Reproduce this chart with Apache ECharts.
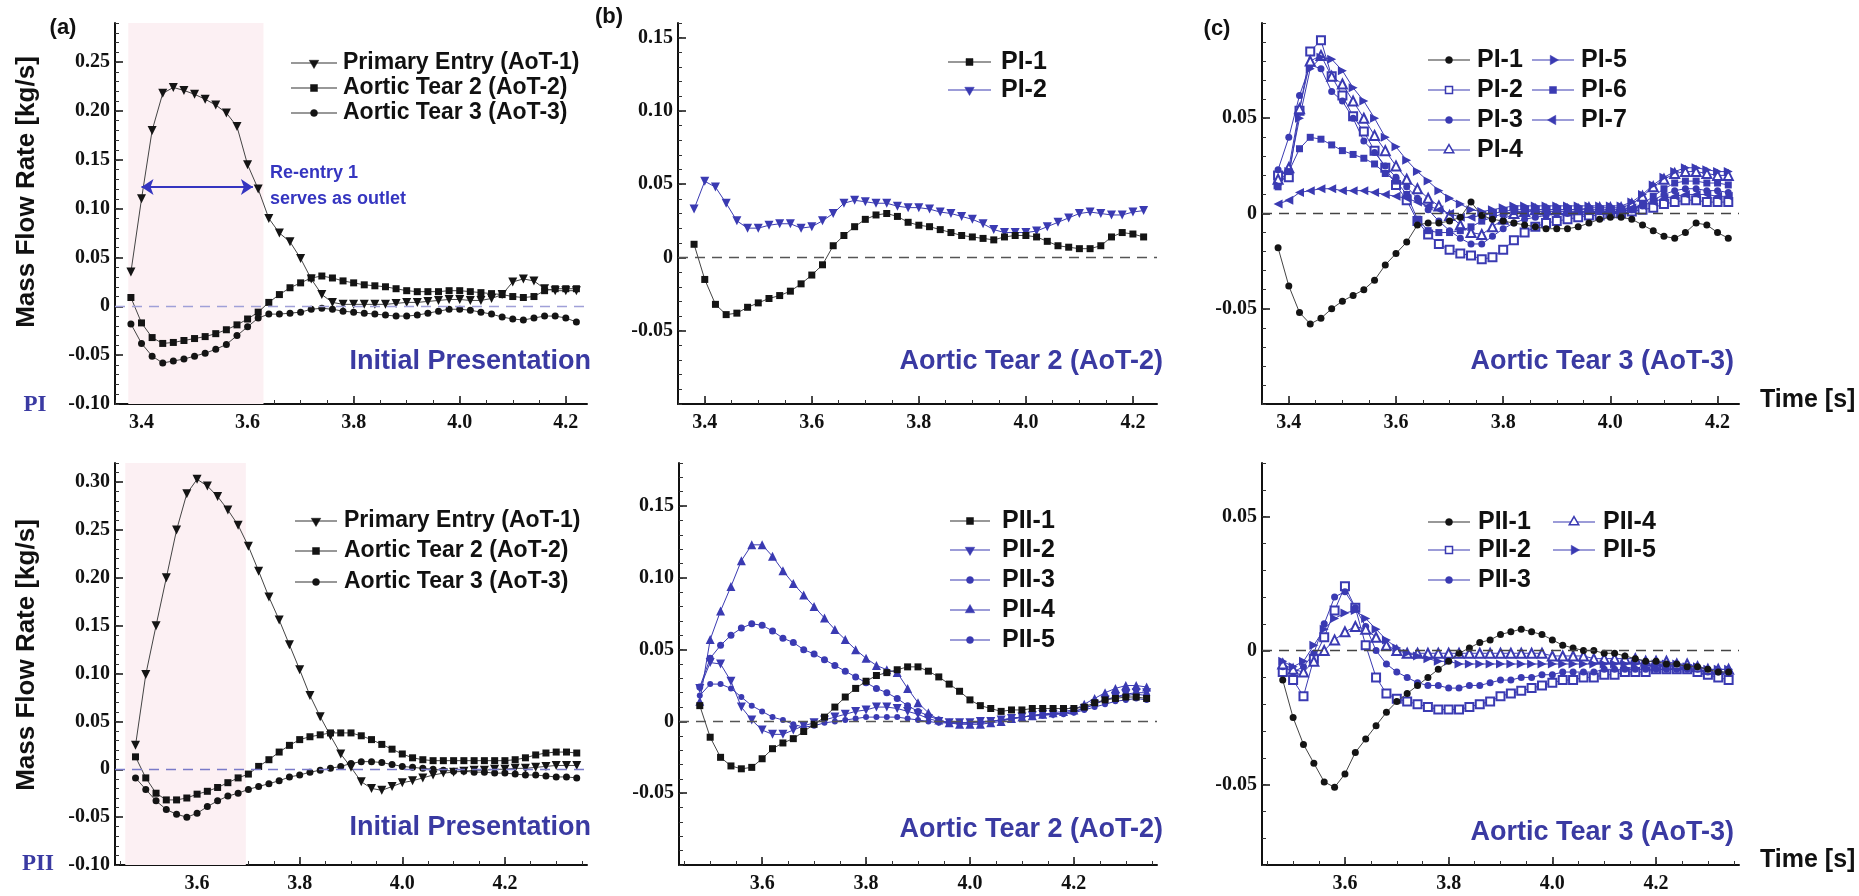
<!DOCTYPE html>
<html>
<head>
<meta charset="utf-8">
<script src="https://cdn.jsdelivr.net/npm/echarts@6/dist/echarts.min.js"></script>
<style>
  html, body { margin: 0; padding: 0; background: #fff; }
  #chart { width: 1859px; height: 896px; }
</style>
</head>
<body>
<div id="chart"></div>
<script>
// sample times (s)
const timeTop = [3.38, 3.40, 3.42, 3.44, 3.46, 3.48, 3.50, 3.52, 3.54, 3.56, 3.58, 3.60, 3.62, 3.64, 3.66, 3.68, 3.70, 3.72, 3.74, 3.76, 3.78, 3.80, 3.82, 3.84, 3.86, 3.88, 3.90, 3.92, 3.94, 3.96, 3.98, 4.00, 4.02, 4.04, 4.06, 4.08, 4.10, 4.12, 4.14, 4.16, 4.18, 4.20, 4.22];
const timeBottom = [3.48, 3.50, 3.52, 3.54, 3.56, 3.58, 3.60, 3.62, 3.64, 3.66, 3.68, 3.70, 3.72, 3.74, 3.76, 3.78, 3.80, 3.82, 3.84, 3.86, 3.88, 3.90, 3.92, 3.94, 3.96, 3.98, 4.00, 4.02, 4.04, 4.06, 4.08, 4.10, 4.12, 4.14, 4.16, 4.18, 4.20, 4.22, 4.24, 4.26, 4.28, 4.30, 4.32, 4.34];

// tick labels
const xTicks = [3.4, 3.6, 3.8, 4.0, 4.2];
const yTicksA1 = [-0.10, -0.05, 0, 0.05, 0.10, 0.15, 0.20, 0.25];
const yTicksB = [-0.05, 0, 0.05, 0.10, 0.15];
const yTicksC = [-0.05, 0, 0.05];
const yTicksA2 = [-0.10, -0.05, 0, 0.05, 0.10, 0.15, 0.20, 0.25, 0.30];

// (a) PI  mass flow rate [kg/s]
const aTopAoT1 = [0.035, 0.110, 0.180, 0.218, 0.224, 0.221, 0.217, 0.212, 0.206, 0.198, 0.184, 0.145, 0.120, 0.090, 0.075, 0.066, 0.049, 0.028, 0.012, 0.004, 0.002, 0.002, 0.002, 0.002, 0.002, 0.003, 0.004, 0.004, 0.005, 0.006, 0.007, 0.007, 0.006, 0.006, 0.008, 0.012, 0.025, 0.028, 0.026, 0.018, 0.016, 0.016, 0.016];
const aTopAoT2 = [0.009, -0.017, -0.032, -0.038, -0.037, -0.035, -0.033, -0.031, -0.028, -0.024, -0.019, -0.013, -0.006, 0.004, 0.012, 0.019, 0.024, 0.029, 0.031, 0.029, 0.026, 0.024, 0.022, 0.021, 0.020, 0.018, 0.016, 0.015, 0.015, 0.015, 0.016, 0.016, 0.015, 0.014, 0.013, 0.012, 0.010, 0.009, 0.010, 0.016, 0.018, 0.018, 0.018];
const aTopAoT3 = [-0.018, -0.038, -0.051, -0.058, -0.056, -0.054, -0.051, -0.048, -0.044, -0.039, -0.030, -0.021, -0.012, -0.008, -0.008, -0.007, -0.006, -0.003, -0.002, -0.003, -0.005, -0.006, -0.007, -0.008, -0.009, -0.010, -0.010, -0.009, -0.007, -0.005, -0.003, -0.003, -0.004, -0.006, -0.008, -0.011, -0.013, -0.014, -0.012, -0.010, -0.010, -0.012, -0.016];

// (b) PI
const bTopPI1 = [0.009, -0.015, -0.032, -0.039, -0.038, -0.034, -0.031, -0.028, -0.026, -0.023, -0.018, -0.012, -0.005, 0.008, 0.015, 0.021, 0.026, 0.029, 0.030, 0.028, 0.024, 0.022, 0.021, 0.019, 0.017, 0.015, 0.014, 0.013, 0.012, 0.014, 0.015, 0.015, 0.014, 0.011, 0.008, 0.007, 0.006, 0.006, 0.008, 0.014, 0.017, 0.016, 0.014];
const bTopPI2 = [0.033, 0.052, 0.048, 0.037, 0.025, 0.020, 0.020, 0.022, 0.023, 0.023, 0.020, 0.021, 0.025, 0.030, 0.037, 0.039, 0.038, 0.037, 0.037, 0.035, 0.034, 0.034, 0.033, 0.031, 0.030, 0.028, 0.026, 0.023, 0.019, 0.017, 0.017, 0.017, 0.018, 0.021, 0.024, 0.027, 0.030, 0.031, 0.030, 0.029, 0.029, 0.031, 0.032];

// (c) PI
const cTopPI1 = [-0.018, -0.038, -0.052, -0.058, -0.055, -0.050, -0.046, -0.043, -0.040, -0.035, -0.027, -0.021, -0.015, -0.006, -0.005, -0.005, -0.004, -0.002, 0.006, -0.001, -0.003, -0.004, -0.005, -0.006, -0.007, -0.008, -0.008, -0.008, -0.007, -0.005, -0.003, -0.002, -0.002, -0.003, -0.006, -0.009, -0.012, -0.013, -0.010, -0.005, -0.006, -0.010, -0.013];
const cTopPI2 = [0.020, 0.019, 0.054, 0.085, 0.091, 0.072, 0.062, 0.051, 0.043, 0.033, 0.024, 0.015, 0.007, -0.004, -0.011, -0.016, -0.019, -0.021, -0.022, -0.024, -0.023, -0.019, -0.014, -0.010, -0.007, -0.005, -0.004, -0.003, -0.002, -0.001, -0.001, 0.000, 0.000, 0.001, 0.002, 0.003, 0.005, 0.006, 0.007, 0.007, 0.006, 0.006, 0.006];
const cTopPI3 = [0.023, 0.040, 0.062, 0.078, 0.076, 0.064, 0.059, 0.050, 0.038, 0.032, 0.025, 0.019, 0.014, 0.008, 0.002, -0.004, -0.009, -0.013, -0.016, -0.016, -0.012, -0.008, -0.005, -0.003, -0.002, -0.001, 0.000, 0.000, 0.001, 0.001, 0.001, 0.001, 0.001, 0.002, 0.004, 0.007, 0.010, 0.012, 0.013, 0.013, 0.012, 0.012, 0.011];
const cTopPI4 = [0.018, 0.024, 0.055, 0.080, 0.083, 0.072, 0.068, 0.059, 0.050, 0.041, 0.033, 0.025, 0.018, 0.013, 0.008, 0.004, -0.001, -0.006, -0.010, -0.011, -0.007, -0.003, 0.000, 0.001, 0.002, 0.002, 0.002, 0.002, 0.002, 0.003, 0.003, 0.003, 0.003, 0.005, 0.009, 0.014, 0.018, 0.021, 0.022, 0.022, 0.021, 0.020, 0.020];
const cTopPI5 = [0.015, 0.022, 0.050, 0.076, 0.082, 0.081, 0.075, 0.066, 0.059, 0.050, 0.040, 0.035, 0.028, 0.022, 0.017, 0.012, 0.008, 0.005, 0.002, 0.001, 0.002, 0.003, 0.004, 0.004, 0.004, 0.004, 0.004, 0.004, 0.004, 0.004, 0.004, 0.004, 0.004, 0.006, 0.010, 0.015, 0.019, 0.022, 0.024, 0.024, 0.023, 0.022, 0.022];
const cTopPI6 = [0.014, 0.022, 0.034, 0.040, 0.039, 0.036, 0.033, 0.031, 0.029, 0.026, 0.021, 0.017, 0.010, -0.003, -0.009, -0.010, -0.010, -0.009, -0.007, -0.004, -0.002, 0.000, 0.001, 0.001, 0.001, 0.001, 0.001, 0.001, 0.001, 0.001, 0.001, 0.001, 0.001, 0.002, 0.005, 0.009, 0.013, 0.016, 0.017, 0.017, 0.016, 0.016, 0.015];
const cTopPI7 = [0.005, 0.007, 0.011, 0.012, 0.013, 0.013, 0.012, 0.012, 0.012, 0.011, 0.010, 0.009, 0.008, 0.006, 0.004, 0.002, 0.000, -0.002, -0.002, -0.001, 0.000, 0.001, 0.002, 0.002, 0.002, 0.002, 0.002, 0.002, 0.002, 0.002, 0.002, 0.002, 0.002, 0.003, 0.004, 0.006, 0.008, 0.009, 0.010, 0.010, 0.010, 0.009, 0.009];

// (a) PII
const aBotAoT1 = [0.025, 0.099, 0.150, 0.200, 0.250, 0.288, 0.303, 0.296, 0.285, 0.271, 0.255, 0.233, 0.207, 0.180, 0.156, 0.130, 0.104, 0.077, 0.055, 0.035, 0.016, 0.002, -0.013, -0.020, -0.022, -0.018, -0.014, -0.012, -0.009, -0.006, -0.004, -0.003, -0.002, -0.001, -0.001, 0.000, 0.000, 0.001, 0.001, 0.002, 0.003, 0.004, 0.004, 0.004];
const aBotAoT2 = [0.013, -0.009, -0.025, -0.032, -0.032, -0.030, -0.026, -0.023, -0.019, -0.014, -0.009, -0.005, 0.003, 0.010, 0.018, 0.025, 0.031, 0.034, 0.036, 0.038, 0.038, 0.038, 0.035, 0.031, 0.026, 0.021, 0.016, 0.012, 0.010, 0.009, 0.009, 0.009, 0.009, 0.009, 0.009, 0.009, 0.009, 0.010, 0.012, 0.015, 0.017, 0.018, 0.018, 0.017];
const aBotAoT3 = [-0.009, -0.021, -0.033, -0.042, -0.047, -0.050, -0.046, -0.039, -0.033, -0.028, -0.025, -0.021, -0.018, -0.015, -0.012, -0.008, -0.006, -0.003, -0.001, 0.001, 0.003, 0.006, 0.008, 0.008, 0.007, 0.005, 0.003, 0.002, 0.001, 0.000, -0.001, -0.002, -0.002, -0.003, -0.003, -0.004, -0.004, -0.005, -0.006, -0.006, -0.007, -0.008, -0.008, -0.009];

// (b) PII
const bBotPII1 = [0.011, -0.011, -0.025, -0.031, -0.033, -0.032, -0.026, -0.019, -0.015, -0.012, -0.007, -0.002, 0.003, 0.010, 0.017, 0.023, 0.028, 0.032, 0.034, 0.036, 0.038, 0.038, 0.035, 0.031, 0.026, 0.021, 0.015, 0.011, 0.009, 0.007, 0.008, 0.008, 0.009, 0.009, 0.009, 0.009, 0.009, 0.010, 0.013, 0.015, 0.016, 0.017, 0.017, 0.016];
const bBotPII2 = [0.023, 0.041, 0.040, 0.028, 0.010, 0.001, -0.006, -0.009, -0.009, -0.006, -0.003, -0.001, 0.001, 0.003, 0.005, 0.007, 0.008, 0.010, 0.010, 0.009, 0.007, 0.005, 0.002, 0.000, -0.001, -0.001, -0.001, 0.000, 0.000, 0.001, 0.002, 0.003, 0.004, 0.005, 0.005, 0.006, 0.007, 0.009, 0.012, 0.015, 0.017, 0.019, 0.020, 0.020];
const bBotPII3 = [0.018, 0.026, 0.026, 0.023, 0.017, 0.011, 0.007, 0.003, 0.001, -0.002, -0.004, -0.003, -0.001, 0.000, 0.001, 0.002, 0.003, 0.003, 0.003, 0.003, 0.002, 0.001, 0.000, -0.001, -0.001, -0.001, -0.001, 0.000, 0.000, 0.001, 0.002, 0.003, 0.004, 0.004, 0.005, 0.005, 0.006, 0.008, 0.010, 0.012, 0.014, 0.015, 0.016, 0.015];
const bBotPII4 = [0.014, 0.057, 0.077, 0.094, 0.112, 0.123, 0.123, 0.115, 0.105, 0.096, 0.088, 0.080, 0.072, 0.064, 0.057, 0.050, 0.044, 0.039, 0.036, 0.034, 0.023, 0.013, 0.006, 0.001, -0.001, -0.002, -0.002, -0.002, -0.001, 0.000, 0.002, 0.003, 0.004, 0.005, 0.006, 0.007, 0.008, 0.012, 0.016, 0.020, 0.023, 0.025, 0.025, 0.024];
const bBotPII5 = [0.024, 0.044, 0.053, 0.060, 0.065, 0.068, 0.067, 0.063, 0.058, 0.055, 0.050, 0.047, 0.043, 0.039, 0.035, 0.031, 0.027, 0.023, 0.020, 0.016, 0.011, 0.007, 0.004, 0.001, -0.001, -0.001, -0.001, -0.001, 0.000, 0.001, 0.002, 0.003, 0.004, 0.005, 0.005, 0.006, 0.007, 0.009, 0.012, 0.015, 0.017, 0.018, 0.019, 0.018];

// (c) PII
const cBotPII1 = [-0.011, -0.025, -0.035, -0.042, -0.049, -0.051, -0.046, -0.038, -0.033, -0.028, -0.023, -0.019, -0.016, -0.013, -0.010, -0.007, -0.004, -0.001, 0.001, 0.003, 0.004, 0.006, 0.007, 0.008, 0.007, 0.006, 0.004, 0.002, 0.001, 0.000, 0.000, -0.001, -0.001, -0.002, -0.003, -0.004, -0.004, -0.005, -0.005, -0.006, -0.006, -0.007, -0.008, -0.008];
const cBotPII2 = [-0.008, -0.011, -0.017, -0.003, 0.005, 0.015, 0.024, 0.016, 0.002, -0.010, -0.016, -0.018, -0.019, -0.020, -0.021, -0.022, -0.022, -0.022, -0.021, -0.020, -0.019, -0.017, -0.016, -0.015, -0.014, -0.013, -0.012, -0.011, -0.011, -0.010, -0.010, -0.009, -0.009, -0.008, -0.008, -0.008, -0.007, -0.007, -0.007, -0.007, -0.008, -0.009, -0.010, -0.011];
const cBotPII3 = [-0.006, -0.008, -0.006, -0.001, 0.010, 0.020, 0.022, 0.016, 0.009, 0.000, -0.005, -0.008, -0.010, -0.012, -0.013, -0.013, -0.014, -0.014, -0.013, -0.013, -0.012, -0.011, -0.011, -0.010, -0.010, -0.009, -0.009, -0.008, -0.008, -0.008, -0.008, -0.007, -0.007, -0.007, -0.007, -0.007, -0.007, -0.007, -0.007, -0.007, -0.007, -0.008, -0.008, -0.008];
const cBotPII4 = [-0.005, -0.007, -0.008, -0.004, 0.000, 0.004, 0.007, 0.009, 0.008, 0.005, 0.002, 0.000, -0.001, -0.001, -0.001, -0.001, -0.001, -0.001, -0.001, -0.001, -0.001, -0.001, -0.001, -0.001, -0.001, -0.001, -0.002, -0.002, -0.002, -0.002, -0.003, -0.003, -0.003, -0.003, -0.003, -0.004, -0.004, -0.004, -0.005, -0.005, -0.006, -0.007, -0.007, -0.007];
const cBotPII5 = [-0.004, -0.006, -0.004, 0.002, 0.008, 0.012, 0.014, 0.015, 0.012, 0.008, 0.004, 0.001, -0.001, -0.002, -0.003, -0.004, -0.004, -0.005, -0.005, -0.005, -0.005, -0.005, -0.005, -0.005, -0.005, -0.005, -0.005, -0.005, -0.005, -0.005, -0.005, -0.005, -0.005, -0.005, -0.005, -0.005, -0.005, -0.005, -0.005, -0.006, -0.006, -0.007, -0.007, -0.007];

const BLACK = '#141414';
const BLUE = '#3a3ab2';
const NOTE = '#3a3aa2';
const SANS = '"Liberation Sans", Arial, sans-serif';
const SERIF = '"Liberation Serif", "Times New Roman", serif';

const panels = [
  { box: { left: 115, top: 23, width: 472, height: 381 }, x: [3.35, 4.24], y: [-0.10, 0.29], yt: yTicksA1, zero: '#a0a0d8' },
  { box: { left: 678, top: 23, width: 479, height: 381 }, x: [3.35, 4.245], y: [-0.10, 0.16], yt: yTicksB, zero: '#555' },
  { box: { left: 1262, top: 23, width: 477, height: 381 }, x: [3.35, 4.24], y: [-0.10, 0.10], yt: yTicksC, zero: '#444' },
  { box: { left: 115, top: 463, width: 472, height: 402 }, x: [3.44, 4.36], y: [-0.10, 0.32], yt: yTicksA2, zero: '#7a7ac8' },
  { box: { left: 679, top: 463, width: 478, height: 402 }, x: [3.44, 4.36], y: [-0.10, 0.18], yt: yTicksB, zero: '#555' },
  { box: { left: 1262, top: 463, width: 477, height: 402 }, x: [3.44, 4.36], y: [-0.08, 0.07], yt: yTicksC, zero: '#444' }
];

const lines = [
  { p: 0, name: 'Primary Entry (AoT-1)', t: timeTop, v: aTopAoT1, sym: 'down', c: BLACK },
  { p: 0, name: 'Aortic Tear 2 (AoT-2)', t: timeTop, v: aTopAoT2, sym: 'rect', c: BLACK },
  { p: 0, name: 'Aortic Tear 3 (AoT-3)', t: timeTop, v: aTopAoT3, sym: 'circle', c: BLACK },
  { p: 1, name: 'PI-1', t: timeTop, v: bTopPI1, sym: 'rect', c: BLACK },
  { p: 1, name: 'PI-2', t: timeTop, v: bTopPI2, sym: 'down', c: BLUE },
  { p: 2, name: 'PI-1', t: timeTop, v: cTopPI1, sym: 'circle', c: BLACK },
  { p: 2, name: 'PI-2', t: timeTop, v: cTopPI2, sym: 'rect', c: BLUE, empty: true },
  { p: 2, name: 'PI-3', t: timeTop, v: cTopPI3, sym: 'circle', c: BLUE },
  { p: 2, name: 'PI-4', t: timeTop, v: cTopPI4, sym: 'up', c: BLUE, empty: true },
  { p: 2, name: 'PI-5', t: timeTop, v: cTopPI5, sym: 'right', c: BLUE },
  { p: 2, name: 'PI-6', t: timeTop, v: cTopPI6, sym: 'rect', c: BLUE },
  { p: 2, name: 'PI-7', t: timeTop, v: cTopPI7, sym: 'left', c: BLUE },
  { p: 3, name: 'Primary Entry (AoT-1)', t: timeBottom, v: aBotAoT1, sym: 'down', c: BLACK },
  { p: 3, name: 'Aortic Tear 2 (AoT-2)', t: timeBottom, v: aBotAoT2, sym: 'rect', c: BLACK },
  { p: 3, name: 'Aortic Tear 3 (AoT-3)', t: timeBottom, v: aBotAoT3, sym: 'circle', c: BLACK },
  { p: 4, name: 'PII-1', t: timeBottom, v: bBotPII1, sym: 'rect', c: BLACK },
  { p: 4, name: 'PII-2', t: timeBottom, v: bBotPII2, sym: 'down', c: BLUE },
  { p: 4, name: 'PII-3', t: timeBottom, v: bBotPII3, sym: 'circle', c: BLUE, small: true },
  { p: 4, name: 'PII-4', t: timeBottom, v: bBotPII4, sym: 'up', c: BLUE },
  { p: 4, name: 'PII-5', t: timeBottom, v: bBotPII5, sym: 'circle', c: BLUE },
  { p: 5, name: 'PII-1', t: timeBottom, v: cBotPII1, sym: 'circle', c: BLACK },
  { p: 5, name: 'PII-2', t: timeBottom, v: cBotPII2, sym: 'rect', c: BLUE, empty: true },
  { p: 5, name: 'PII-3', t: timeBottom, v: cBotPII3, sym: 'circle', c: BLUE },
  { p: 5, name: 'PII-4', t: timeBottom, v: cBotPII4, sym: 'up', c: BLUE, empty: true },
  { p: 5, name: 'PII-5', t: timeBottom, v: cBotPII5, sym: 'right', c: BLUE }
];

// legend placement per panel
const legendLayout = [
  { cols: [291], rows: [63, 88, 113], len: 46, gap: 6, font: 'bold 23px ' + SANS },
  { cols: [948], rows: [62, 90], len: 43, gap: 10, font: 'bold 25px ' + SANS },
  { cols: [1428, 1532], rows: [60, 90, 120, 150], len: 42, gap: 7, font: 'bold 25px ' + SANS },
  { cols: [295], rows: [521, 551, 582], len: 42, gap: 7, font: 'bold 23px ' + SANS },
  { cols: [950], rows: [521, 550, 580, 610, 640], len: 40, gap: 12, font: 'bold 25px ' + SANS },
  { cols: [1428, 1553], rows: [522, 550, 580], len: 42, gap: 8, font: 'bold 25px ' + SANS }
];

function ticksBetween(min, max, step) {
  const out = [];
  for (let k = Math.ceil(min / step - 1e-6); k * step <= max + 1e-9; k++) out.push(+(k * step).toFixed(4));
  return out;
}

function symbolOf(s) {
  const rot = { down: 180, up: 0, right: -90, left: 90 };
  if (s.sym in rot) return { symbol: s.empty ? 'emptyTriangle' : 'triangle', rotate: rot[s.sym], size: 9 };
  if (s.sym === 'rect') return { symbol: s.empty ? 'emptyRect' : 'rect', rotate: 0, size: s.empty ? 8 : 7 };
  return { symbol: s.empty ? 'emptyCircle' : 'circle', rotate: 0, size: s.small ? 6 : 7 };
}

function marker(cx, cy, s) {
  const fill = s.empty ? '#fff' : s.c;
  const style = { fill: fill, stroke: s.c, lineWidth: s.empty ? 1.5 : 0.5 };
  const dir = { up: 0, right: 90, down: 180, left: 270 };
  if (s.sym in dir) {
    const r = 5.5, a0 = dir[s.sym] * Math.PI / 180;
    const pts = [0, 1, 2].map(k => {
      const a = a0 + k * 2 * Math.PI / 3;
      return [cx + r * Math.sin(a), cy - r * Math.cos(a)];
    });
    return { type: 'polygon', silent: true, shape: { points: pts }, style };
  }
  if (s.sym === 'rect') return { type: 'rect', silent: true, shape: { x: cx - 3.5, y: cy - 3.5, width: 7, height: 7 }, style };
  return { type: 'circle', silent: true, shape: { cx, cy, r: 3.5 }, style };
}

function text(x, y, str, font, fill, align, rotation) {
  return {
    type: 'text', silent: true, x, y, rotation: rotation || 0,
    style: { x: 0, y: 0, text: str, font, fill, align: align || 'left', verticalAlign: 'middle', textAlign: align || 'left', textVerticalAlign: 'middle' }
  };
}

const grids = [], xAxes = [], yAxes = [], series = [], graphics = [];
const labelStyle = { color: '#111', fontFamily: SERIF, fontWeight: 'bold', fontSize: 20 };

panels.forEach((p, i) => {
  grids.push(p.box);
  xAxes.push({
    type: 'value', gridIndex: i, min: p.x[0], max: p.x[1], position: 'bottom',
    axisLine: { onZero: false, lineStyle: { color: '#111', width: 2 } },
    axisTick: { inside: true, length: 8, customValues: xTicks, lineStyle: { color: '#111', width: 1.5 } },
    axisLabel: Object.assign({ customValues: xTicks, margin: 9, formatter: v => v.toFixed(1) }, labelStyle),
    splitLine: { show: false }
  });
  xAxes.push({
    type: 'value', gridIndex: i, min: p.x[0], max: p.x[1], position: 'bottom',
    axisLine: { show: false, onZero: false },
    axisTick: { inside: true, length: 4, customValues: ticksBetween(p.x[0], p.x[1], 0.05), lineStyle: { color: '#333', width: 1 } },
    axisLabel: { show: false }, splitLine: { show: false }
  });
  yAxes.push({
    type: 'value', gridIndex: i, min: p.y[0], max: p.y[1], position: 'left',
    axisLine: { onZero: false, lineStyle: { color: '#111', width: 2 } },
    axisTick: { inside: true, length: 8, customValues: p.yt, lineStyle: { color: '#111', width: 1.5 } },
    axisLabel: Object.assign({ customValues: p.yt, margin: 5, formatter: v => Math.abs(v) < 1e-9 ? '0' : v.toFixed(2) }, labelStyle),
    splitLine: { show: false }
  });
  yAxes.push({
    type: 'value', gridIndex: i, min: p.y[0], max: p.y[1], position: 'left',
    axisLine: { show: false, onZero: false },
    axisTick: { inside: true, length: 4, customValues: ticksBetween(p.y[0], p.y[1], 0.01), lineStyle: { color: '#333', width: 1 } },
    axisLabel: { show: false }, splitLine: { show: false }
  });
});

lines.forEach((s, j) => {
  const m = symbolOf(s);
  const item = {
    type: 'line', name: s.name, silent: true,
    xAxisIndex: 2 * s.p, yAxisIndex: 2 * s.p,
    data: s.v.map((v, k) => [s.t[k], v]),
    symbol: m.symbol, symbolSize: m.size, symbolRotate: m.rotate,
    itemStyle: { color: s.c, borderColor: s.c, borderWidth: s.empty ? 1.5 : 0 },
    lineStyle: { color: s.c === BLACK ? '#444' : s.c, width: 1 },
    z: s.c === BLACK ? 3 : 2
  };
  series.push(item);
});

// zero reference lines
panels.forEach((p, i) => {
  series.push({
    type: 'line', silent: true, data: [], xAxisIndex: 2 * i, yAxisIndex: 2 * i, z: 1,
    markLine: {
      silent: true, symbol: 'none', label: { show: false },
      lineStyle: { color: p.zero, type: [10, 7], width: 1.3 },
      data: [{ yAxis: 0 }]
    }
  });
});

// shaded systole window and re-entry arrow, column (a)
series.push({
  type: 'line', silent: true, data: [], xAxisIndex: 0, yAxisIndex: 0, z: 0,
  markArea: { silent: true, itemStyle: { color: '#fcf0f3' }, data: [[{ xAxis: 3.375 }, { xAxis: 3.63 }]] },
  markLine: {
    silent: true, symbol: ['arrow', 'arrow'], symbolSize: 12, label: { show: false },
    lineStyle: { color: '#3535c0', width: 2.2, type: 'solid' },
    data: [[{ coord: [3.40, 0.122] }, { coord: [3.61, 0.122] }]]
  }
});
series.push({
  type: 'line', silent: true, data: [], xAxisIndex: 6, yAxisIndex: 6, z: 0,
  markArea: { silent: true, itemStyle: { color: '#fcf0f3' }, data: [[{ xAxis: 3.46 }, { xAxis: 3.695 }]] }
});

// legends
legendLayout.forEach((L, p) => {
  const items = lines.filter(s => s.p === p);
  const perCol = L.rows.length;
  items.forEach((s, k) => {
    const x = L.cols[Math.floor(k / perCol)];
    const y = L.rows[k % perCol];
    graphics.push({ type: 'line', silent: true, shape: { x1: x, y1: y, x2: x + L.len, y2: y }, style: { stroke: s.c === BLACK ? '#333' : s.c, lineWidth: 1.2 } });
    graphics.push(marker(x + L.len / 2, y, s));
    graphics.push(text(x + L.len + L.gap, y, s.name, L.font, '#111', 'left'));
  });
});

// annotations
const noteFont = 'bold 27px ' + SANS;
graphics.push(
  text(63, 28, '(a)', 'bold 22px ' + SANS, '#111', 'center'),
  text(609, 17, '(b)', 'bold 22px ' + SANS, '#111', 'center'),
  text(1217, 29, '(c)', 'bold 22px ' + SANS, '#111', 'center'),
  text(27, 192, 'Mass Flow Rate [kg/s]', 'bold 26px ' + SANS, '#111', 'center', Math.PI / 2),
  text(27, 655, 'Mass Flow Rate [kg/s]', 'bold 26px ' + SANS, '#111', 'center', Math.PI / 2),
  text(591, 362, 'Initial Presentation', noteFont, NOTE, 'right'),
  text(591, 828, 'Initial Presentation', noteFont, NOTE, 'right'),
  text(1163, 362, 'Aortic Tear 2 (AoT-2)', noteFont, NOTE, 'right'),
  text(1163, 830, 'Aortic Tear 2 (AoT-2)', noteFont, NOTE, 'right'),
  text(1734, 362, 'Aortic Tear 3 (AoT-3)', noteFont, NOTE, 'right'),
  text(1734, 833, 'Aortic Tear 3 (AoT-3)', noteFont, NOTE, 'right'),
  text(1760, 400, 'Time [s]', 'bold 25px ' + SANS, '#111', 'left'),
  text(1760, 860, 'Time [s]', 'bold 25px ' + SANS, '#111', 'left'),
  text(35, 405, 'PI', 'bold 23px ' + SERIF, NOTE, 'center'),
  text(38, 864, 'PII', 'bold 23px ' + SERIF, NOTE, 'center'),
  text(270, 173, 'Re-entry 1', 'bold 18px ' + SANS, '#3535c0', 'left'),
  text(270, 199, 'serves as outlet', 'bold 18px ' + SANS, '#3535c0', 'left')
);

const chart = echarts.init(document.getElementById('chart'));
chart.setOption({
  backgroundColor: '#fff',
  animation: false,
  grid: grids,
  xAxis: xAxes,
  yAxis: yAxes,
  series: series,
  graphic: { elements: graphics }
});
</script>
</body>
</html>
